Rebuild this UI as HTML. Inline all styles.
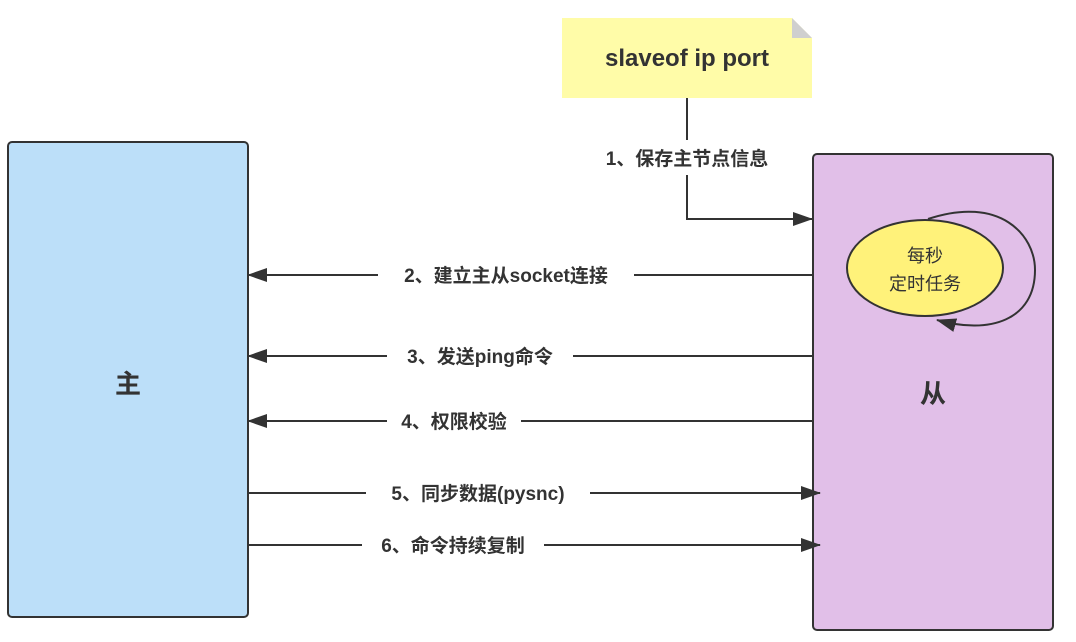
<!DOCTYPE html>
<html><head><meta charset="utf-8"><style>
html,body{margin:0;padding:0;background:#fff}
svg text{font-family:"Liberation Sans","Noto Sans CJK SC",sans-serif;font-weight:bold;fill:#333}
</style></head><body>
<svg width="1076" height="637" viewBox="0 0 1076 637" xmlns="http://www.w3.org/2000/svg">
<defs><marker id="a" markerWidth="10" markerHeight="10" refX="9" refY="5" orient="auto" markerUnits="userSpaceOnUse"><path d="M0,0 L18,5 L0,10 Z" fill="#333" transform="scale(0.55,1)"/></marker>
<marker id="b" markerWidth="20" markerHeight="14" refX="19" refY="7" orient="auto" markerUnits="userSpaceOnUse"><path d="M0,0 L20,7 L0,14 Z" fill="#333"/></marker></defs>
<rect x="8" y="142" width="240" height="475" rx="4" fill="#bcdff9" stroke="#333" stroke-width="2"/>
<text x="128" y="393" font-size="26" text-anchor="middle">主</text>
<rect x="813" y="154" width="240" height="476" rx="4" fill="#e1bfe8" stroke="#333" stroke-width="2"/>
<text x="933" y="403" font-size="26" text-anchor="middle">从</text>
<path d="M562,18 L792,18 L812,38 L812,98 L562,98 Z" fill="#fffca8"/>
<path d="M792,18 L812,38 L792,38 Z" fill="#cfcfcf"/>
<text x="687" y="66" font-size="24" text-anchor="middle">slaveof  ip  port</text>
<path d="M687,98 V140 M687,175 V219 H812" fill="none" stroke="#333" stroke-width="2" marker-end="url(#b)"/>
<text x="687" y="165" font-size="19" text-anchor="middle">1、保存主节点信息</text>
<ellipse cx="925" cy="268" rx="78" ry="48" fill="#fff27a" stroke="#333" stroke-width="2"/>
<text x="925" y="262" font-size="18" text-anchor="middle" style="font-weight:normal">每秒</text>
<text x="925" y="290" font-size="18" text-anchor="middle" style="font-weight:normal">定时任务</text>
<path d="M928,219 C1000,195 1035,235 1035,270 C1035,320 990,335 937,320" fill="none" stroke="#333" stroke-width="2" marker-end="url(#b)"/>
<g stroke="#333" stroke-width="2" fill="none">
<path d="M812,275 H248" marker-end="url(#b)"/>
<path d="M812,356 H248" marker-end="url(#b)"/>
<path d="M812,421 H248" marker-end="url(#b)"/>
<path d="M248,493 H820" marker-end="url(#b)"/>
<path d="M248,545 H820" marker-end="url(#b)"/>
</g>
<g font-size="19" text-anchor="middle">
<rect x="378" y="262" width="256" height="26" fill="#fff"/><text x="506" y="282">2、建立主从socket连接</text>
<rect x="387" y="343" width="186" height="26" fill="#fff"/><text x="480" y="363">3、发送ping命令</text>
<rect x="387" y="408" width="134" height="26" fill="#fff"/><text x="454" y="428">4、权限校验</text>
<rect x="366" y="480" width="224" height="26" fill="#fff"/><text x="478" y="500">5、同步数据(pysnc)</text>
<rect x="362" y="532" width="182" height="26" fill="#fff"/><text x="453" y="552">6、命令持续复制</text>
</g>
</svg>
</body></html>
